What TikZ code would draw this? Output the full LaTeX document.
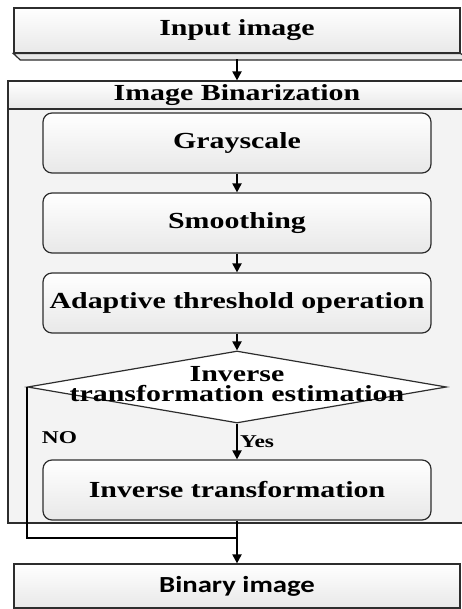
\documentclass[tikz,border=0pt]{standalone}
\usepackage{fontspec}
\usetikzlibrary{shapes.geometric,arrows.meta}
\newfontfamily\tnr{Liberation Serif}[FakeStretch=1.3]
\newfontfamily\carl{Carlito}[FakeStretch=1.25]
\definecolor{edge}{RGB}{45,45,45}
\definecolor{contfill}{RGB}{243,243,243}
\definecolor{boxbot}{RGB}{232,232,232}
\begin{document}
\begin{tikzpicture}[x=1pt,y=-1pt,
  procbox/.style={draw=edge,line width=1.2pt,rounded corners=9pt,top color=white,bottom color=boxbot,
     minimum width=388pt,minimum height=60pt,inner sep=0pt,anchor=center,
     font=\tnr\bfseries\fontsize{23}{19}\selectfont},
  flatbox/.style={draw=edge,line width=1.2pt,top color=white,bottom color=boxbot,
     minimum width=446pt,minimum height=45pt,inner sep=0pt},
  flow/.style={line width=2pt,-{Triangle[length=9pt,width=9pt]}},
  lbl/.style={font=\tnr\bfseries\fontsize{18}{18}\selectfont,inner sep=0pt}]
\useasboundingbox (0,0) rectangle (462,609);
\clip (0,0) rectangle (462,609);
\fill[white] (0,0) rectangle (462,609);
% input image
\node[flatbox,font=\tnr\bfseries\fontsize{23}{19}\selectfont] (input) at (237,30.5) {Input image};
\draw[edge,line width=1.2pt,fill=boxbot] (input.south west) -- ++(7,6.5) -- ++(450,0) -- (input.south east) -- cycle;
\coordinate (inbot) at (237,59.5);
% container
\node[draw=edge,line width=1.2pt,fill=contfill,minimum width=458pt,minimum height=442pt,inner sep=0pt] (cont) at (237,302) {};
\node[draw=edge,line width=1.2pt,top color=white,bottom color=boxbot,minimum width=458pt,minimum height=28pt,inner sep=0pt,
  font=\tnr\bfseries\fontsize{23}{19}\selectfont] (head) at (237,95) {Image Binarization};
% process boxes
\node[procbox] (gray) at (237,143) {Grayscale};
\node[procbox] (smooth) at (237,223) {Smoothing};
\node[procbox] (adapt) at (237,303) {Adaptive threshold operation};
\node[draw=edge,line width=1.2pt,fill=white,diamond,minimum width=419pt,minimum height=72pt,inner sep=0pt] (dia) at (237,387) {};
\node[align=center,inner sep=0pt,font=\tnr\bfseries\fontsize{23}{20.5}\selectfont] (diatext) at (237,384) {Inverse\\transformation estimation};
\node[procbox] (inv) at (237,490) {Inverse transformation};
% output
\node[flatbox,minimum height=44pt,font=\carl\bfseries\fontsize{23}{19}\selectfont] (binary) at (237,586) {Binary image};
% connectors
\draw[flow] (inbot) -- (head.north);
\draw[flow] (gray.south) -- (smooth.north);
\draw[flow] (smooth.south) -- (adapt.north);
\draw[flow] (adapt.south) -- (dia.north);
\draw[flow] (dia.south) -- (inv.north);
\coordinate (join) at (237,538);
\draw[line width=2.5pt] (dia.west) -- (dia.west |- join) -- (join);
\draw[flow] (inv.south) -- (binary.north);
% labels
\node[lbl] (no) at (59.5,437.5) {NO};
\node[lbl,anchor=west] (yes) at (240,442) {Yes};
\end{tikzpicture}
\end{document}
